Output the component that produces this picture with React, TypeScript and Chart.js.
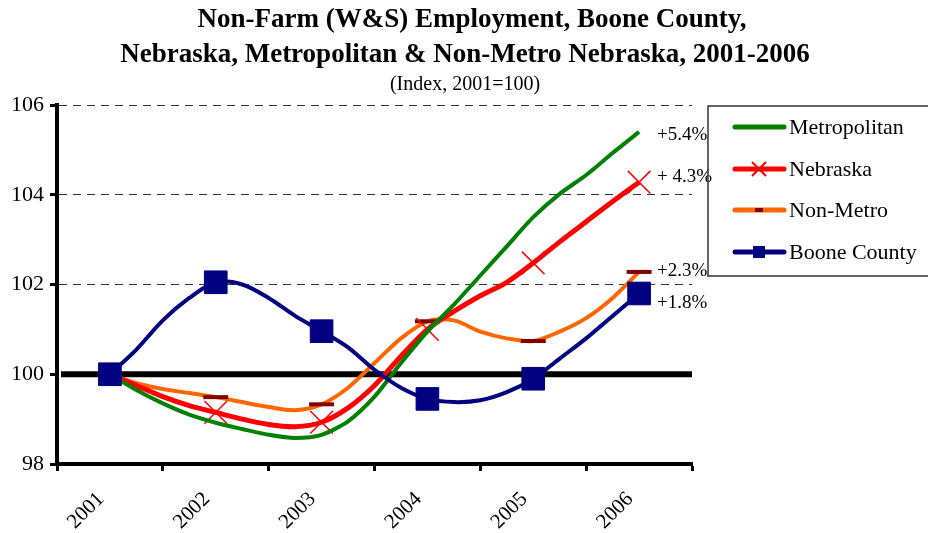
import React, { useEffect, useRef } from 'react';
import { Chart, registerables } from 'chart.js';

Chart.register(...registerables);

// Period positions (0 = 2001, 1 = 2002, ... quarterly steps)
const periods = [0, 0.25, 0.5, 0.75, 1, 1.25, 1.5, 1.75, 2, 2.25, 2.5, 2.75, 3, 3.25, 3.5, 3.75, 4, 4.25, 4.5, 4.75, 5];
const yearLabels = ['2001', '2002', '2003', '2004', '2005', '2006'];

const metropolitan = [100, 99.65, 99.35, 99.1, 98.92, 98.78, 98.65, 98.58, 98.65, 98.95, 99.5, 100.25, 100.95, 101.55, 102.2, 102.85, 103.5, 104.02, 104.44, 104.93, 105.4];
const nebraska = [100, 99.75, 99.5, 99.3, 99.15, 99.0, 98.88, 98.83, 98.93, 99.25, 99.75, 100.4, 101.0, 101.4, 101.75, 102.05, 102.48, 102.95, 103.4, 103.85, 104.28];
const nonMetro = [100, 99.8, 99.67, 99.58, 99.49, 99.38, 99.27, 99.2, 99.33, 99.7, 100.25, 100.8, 101.18, 101.2, 100.95, 100.8, 100.74, 100.95, 101.25, 101.7, 102.28];
const booneCounty = [100, 100.55, 101.2, 101.7, 102.05, 102.0, 101.7, 101.3, 100.96, 100.6, 100.1, 99.7, 99.45, 99.38, 99.42, 99.6, 99.9, 100.35, 100.8, 101.3, 101.8];

const seriesNames = ['Metropolitan', 'Nebraska', 'Non-Metro', 'Boone County'];
const endLabels = ['+5.4%', '+ 4.3%', '+2.3%', '+1.8%'];
const yTicks = [98, 100, 102, 104, 106];

const titleLines = [
  'Non-Farm (W&S) Employment, Boone County,',
  'Nebraska, Metropolitan & Non-Metro Nebraska, 2001-2006',
];
const subtitle = '(Index, 2001=100)';

const SERIF = '"Liberation Serif", "Times New Roman", serif';
const GREEN = '#008000';
const RED = '#FF0000';
const ORANGE = '#FF6600';
const NAVY = '#000080';
const DARKRED = '#800000';

const toPoints = (vals: number[]) => periods.map((p, i) => ({ x: p, y: vals[i] }));
const markerAt = (r: number) => (ctx: any) => (periods[ctx.dataIndex] % 1 === 0 ? r : 0);

const overlayPlugin = {
  id: 'overlay',
  beforeDatasetsDraw(chart: any) {
    const { ctx, chartArea, scales } = chart;
    const py = scales.y.getPixelForValue(100);
    ctx.save();
    ctx.strokeStyle = '#000';
    ctx.lineWidth = 6;
    ctx.beginPath();
    ctx.moveTo(chartArea.left + 4, py);
    ctx.lineTo(chartArea.right, py);
    ctx.stroke();
    ctx.restore();
  },
  afterDraw(chart: any) {
    const { ctx, scales } = chart;
    ctx.save();
    // Titles
    ctx.fillStyle = '#000';
    ctx.textAlign = 'center';
    ctx.textBaseline = 'middle';
    ctx.font = `bold 27px ${SERIF}`;
    ctx.fillText(titleLines[0], 472, 20);
    ctx.fillText(titleLines[1], 465, 55);
    ctx.font = `20px ${SERIF}`;
    ctx.fillText(subtitle, 465, 85);

    // End labels
    const series = [metropolitan, nebraska, nonMetro, booneCounty];
    const offsets = [3, -5, -1, 10];
    ctx.textAlign = 'left';
    ctx.font = `19px ${SERIF}`;
    const xEnd = scales.x.getPixelForValue(periods[periods.length - 1]) + 18;
    series.forEach((s, i) => {
      const py = scales.y.getPixelForValue(s[s.length - 1]) + offsets[i];
      ctx.fillText(endLabels[i], xEnd, py);
    });

    // Legend
    const lx = 708, ly = 106, lw = 260, lh = 170;
    ctx.strokeStyle = '#333';
    ctx.lineWidth = 1.5;
    ctx.strokeRect(lx, ly, lw, lh);
    const rows = [127, 169, 210, 252];
    const colors = [GREEN, RED, ORANGE, NAVY];
    ctx.font = `22px ${SERIF}`;
    ctx.textBaseline = 'middle';
    rows.forEach((ry, i) => {
      ctx.strokeStyle = colors[i];
      ctx.lineWidth = 5;
      ctx.lineCap = 'round';
      ctx.beginPath();
      ctx.moveTo(735, ry);
      ctx.lineTo(784, ry);
      ctx.stroke();
      ctx.lineCap = 'butt';
      const cx = 759;
      if (i === 1) {
        ctx.strokeStyle = RED;
        ctx.lineWidth = 2;
        ctx.beginPath();
        ctx.moveTo(cx - 7, ry - 7);
        ctx.lineTo(cx + 7, ry + 7);
        ctx.moveTo(cx - 7, ry + 7);
        ctx.lineTo(cx + 7, ry - 7);
        ctx.stroke();
      } else if (i === 2) {
        ctx.fillStyle = DARKRED;
        ctx.fillRect(cx - 4, ry - 2, 8, 4);
      } else if (i === 3) {
        ctx.fillStyle = NAVY;
        ctx.fillRect(cx - 6, ry - 6, 12, 12);
      }
      ctx.fillStyle = '#000';
      ctx.fillText(seriesNames[i], 789, ry + 1);
    });
    ctx.restore();
  },
};

export default function App() {
  const canvasRef = useRef<HTMLCanvasElement | null>(null);

  useEffect(() => {
    document.body.style.margin = '0';
    const canvas = canvasRef.current;
    if (!canvas) return;
    const chart = new Chart(canvas, {
      type: 'line',
      data: {
        datasets: [
          {
            label: seriesNames[3],
            data: toPoints(booneCounty),
            borderColor: NAVY,
            borderWidth: 4,
            tension: 0.3,
            pointStyle: 'rect',
            pointRadius: markerAt(16),
            pointBackgroundColor: NAVY,
            pointBorderColor: NAVY,
            pointBorderWidth: 1,
            order: 0,
          },
          {
            label: seriesNames[0],
            data: toPoints(metropolitan),
            borderColor: GREEN,
            borderWidth: 4,
            tension: 0.25,
            pointRadius: 0,
            order: 1,
          },
          {
            label: seriesNames[1],
            data: toPoints(nebraska),
            borderColor: RED,
            borderWidth: 5,
            tension: 0.3,
            pointStyle: 'crossRot',
            pointRadius: markerAt(16),
            pointBorderColor: RED,
            pointBackgroundColor: RED,
            pointBorderWidth: 1.5,
            order: 2,
          },
          {
            label: seriesNames[2],
            data: toPoints(nonMetro),
            borderColor: ORANGE,
            borderWidth: 4,
            tension: 0.3,
            pointStyle: 'line',
            pointRadius: markerAt(12.5),
            pointBorderColor: DARKRED,
            pointBackgroundColor: DARKRED,
            pointBorderWidth: 4,
            order: 3,
          },
        ],
      },
      options: {
        responsive: false,
        animation: false,
        devicePixelRatio: 1,
        events: [],
        layout: { padding: { top: 105, right: 236, bottom: 0, left: 0 } },
        plugins: {
          legend: { display: false },
          title: { display: false },
          tooltip: { enabled: false },
        },
        scales: {
          x: {
            type: 'linear',
            min: -0.5,
            max: 5.5,
            afterBuildTicks: (scale: any) => {
              const t: any[] = [];
              for (let i = 0; i < yearLabels.length; i++) {
                t.push({ value: i - 0.5 });
                t.push({ value: i });
              }
              t.push({ value: yearLabels.length - 0.5 });
              scale.ticks = t;
            },
            afterFit: (scale: any) => {
              scale.height = 69;
            },
            ticks: {
              autoSkip: false,
              minRotation: 45,
              maxRotation: 45,
              padding: 16,
              labelOffset: -9,
              color: '#000',
              font: { family: SERIF, size: 21 },
              callback: (v: any) => (Number.isInteger(v) ? yearLabels[v] : ''),
            },
            grid: {
              drawOnChartArea: false,
              tickLength: 7,
              tickWidth: 3,
              tickColor: (ctx: any) => (ctx.tick && Number.isInteger(ctx.tick.value) ? 'rgba(0,0,0,0)' : '#000'),
            },
            border: { display: true, color: '#000', width: 4 },
          },
          y: {
            type: 'linear',
            min: 98,
            max: 106,
            afterBuildTicks: (scale: any) => {
              scale.ticks = yTicks.map((v) => ({ value: v }));
            },
            afterFit: (scale: any) => {
              scale.width = 57;
            },
            ticks: {
              padding: 6,
              color: '#000',
              font: { family: SERIF, size: 22 },
              callback: (v: any) => String(v),
            },
            grid: {
              drawOnChartArea: true,
              lineWidth: 1,
              color: (ctx: any) => (ctx.tick && ctx.tick.value > 100 ? '#333' : 'rgba(0,0,0,0)'),
              tickLength: 7,
              tickWidth: 3,
              tickColor: '#000',
            },
            border: { display: true, color: '#000', width: 4, dash: [8, 6] },
          },
        },
      },
      plugins: [overlayPlugin],
    } as any);
    return () => chart.destroy();
  }, []);

  return (
    <div style={{ width: 928, height: 533, position: 'relative', background: '#fff' }}>
      <canvas ref={canvasRef} width={928} height={533} style={{ display: 'block' }} />
    </div>
  );
}
